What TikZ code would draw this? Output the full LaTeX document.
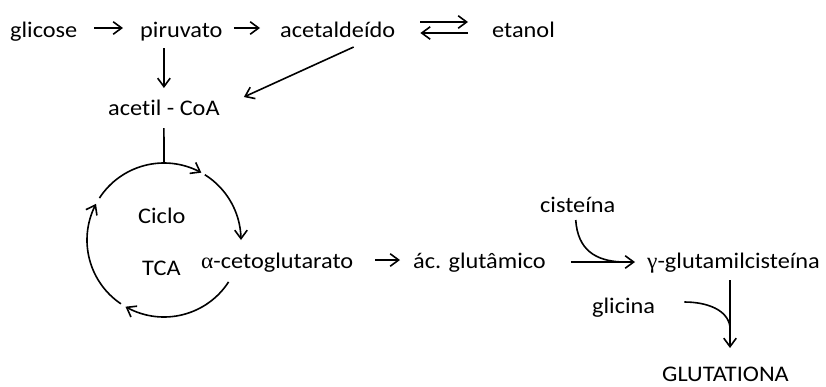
\documentclass[tikz,border=0pt]{standalone}
\usepackage{fontspec}
\setmainfont{Carlito}[FakeStretch=1.09, Ligatures=NoCommon]
\newfontfamily\grk{Liberation Serif}[FakeStretch=1.05]
\usetikzlibrary{arrows.meta,bending,calc}
\begin{document}
\begin{tikzpicture}[x=1pt,y=-1pt,
  lbl/.style={inner sep=0pt, anchor=base west, font=\fontsize{22.3}{26}\selectfont},
  arr/.style={line width=1.6pt, -{Straight Barb[length=8.5pt,width=12.5pt,line width=1.6pt]}},
  ln/.style={line width=1.6pt}]
\useasboundingbox (0,0) rectangle (826,386);
% nodes
\node[lbl] (glicose) at (10,37) {glicose};
\node[lbl] (piruvato) at (140,37) {piruvato};
\node[lbl] (acetald) at (280,37) {acetaldeído};
\node[lbl] (etanol) at (492,37) {etanol};
\node[lbl] (acetil) at (108,115) {acetil - CoA};
\node[lbl] (ciclo) at (138,223) {Ciclo};
\node[lbl] (tca) at (142,275) {TCA};
\node[lbl] (alfa) at (201,268) {{\grk α}-cetoglutarato};
\node[lbl] (acglu) at (413,268) {ác. glutâmico};
\node[lbl] (cist) at (540,212) {cisteína};
\node[lbl] (gama) at (647,268) {{\grk γ}-glutamilcisteína};
\node[lbl] (glicina) at (592,313) {glicina};
\node[lbl] (glut) at (662,381) {GLUTATIONA};
\coordinate (cyc) at (164,240);
% top row
\draw[arr] ($(glicose.base east)+(17,-9)$) -- ($(piruvato.base west)+(-17,-9)$);
\draw[arr] ($(piruvato.base east)+(11,-9)$) -- ($(acetald.base west)+(-20,-9)$);
\draw[arr] ($(acetald.base east)+(25,-15)$) -- ($(etanol.base west)+(-24,-15)$);
\draw[arr] ($(etanol.base west)+(-24,-4)$) -- ($(acetald.base east)+(25,-4)$);
\draw[arr] ($(acetil.base |- piruvato.base)+(0,11)$) -- ($(acetil.base)+(0,-27)$);
\draw[arr] ($(acetald.base)+(16,10)$) -- ($(acetil.base east)+(24,-18)$);
% cycle (y axis points down: visual angle t is written -t)
\draw[ln] ($(acetil.base)+(0,13)$) -- ($(cyc)+(0,-77)$);
\draw[arr] ($(cyc)+(-147:77)$) arc[start angle=-147, end angle=-61, radius=77];
\draw[arr] ($(cyc)+(-58:77)$) arc[start angle=-58, end angle=0, radius=77];
\draw[arr] ($(cyc)+(33:77)$) arc[start angle=33, end angle=120, radius=77];
\draw[arr] ($(cyc)+(124:77)$) arc[start angle=124, end angle=208, radius=77];
% bottom row
\draw[arr] ($(alfa.base east)+(22,-8)$) -- ($(acglu.base west)+(-13,-8)$);
\draw[arr] ($(acglu.base east)+(25,-6)$) -- ($(gama.base west)+(-12,-6)$);
\draw[ln] ($(cist.base)+(-2,8)$) .. controls ($(cist.base)+(0,38)$) and ($(cist.base)+(18,49)$) .. ($(gama.base west)+(-25,-6)$);
\coordinate (vtop) at ($(gama.base west)+(83,12)$);
\draw[arr] (vtop) -- ($(vtop |- glut.base)+(0,-33)$);
\draw[ln] ($(glicina.base east)+(29,-11)$) .. controls ($(glicina.base east)+(52,-11)$) and ($(vtop)+(-2,30)$) .. ($(vtop)+(0,47)$);
\end{tikzpicture}
\end{document}
